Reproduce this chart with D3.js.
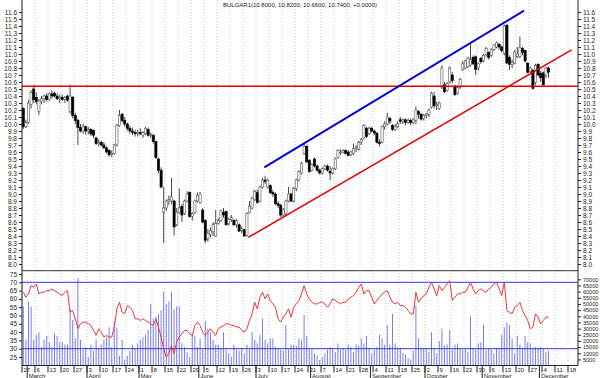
<!DOCTYPE html>
<html>
<head>
<meta charset="utf-8">
<script src="https://cdn.jsdelivr.net/npm/d3@7"></script>
<style>
body { margin: 0; background: #fff; }
svg text { font-family: "Liberation Sans", Arial, sans-serif; fill: #222; }
</style>
</head>
<body>
<div id="chart"></div>
<script>
// daily OHLC, 27 Feb 2006 onwards (one value per trading day)
var opens = [
  10.22, 9.96, 10.02, 10.28, 10.5, 10.38, 10.18, 10.32, 10.36, 10.4,
  10.35, 10.43, 10.44, 10.4, 10.36, 10.38, 10.35, 10.4, 10.18, 10.38,
  10.12, 10.05, 9.95, 9.9, 9.96, 9.9, 9.92, 9.91, 9.8, 9.72,
  9.74, 9.7, 9.66, 9.62, 9.56, 9.58, 9.7, 9.98, 10.14, 10.05,
  10.0, 9.94, 9.9, 9.88, 9.86, 9.88, 9.84, 9.86, 9.92, 9.84,
  9.84, 9.75, 9.5, 9.34, 8.74, 8.8, 8.9, 8.9, 8.9, 8.56,
  8.74, 8.82, 8.72, 8.9, 9.02, 8.68, 8.74, 8.9, 8.88, 8.77,
  8.62, 8.36, 8.42, 8.46, 8.4, 8.58, 8.62, 8.74, 8.75, 8.58,
  8.64, 8.62, 8.56, 8.56, 8.48, 8.49, 8.41, 8.74, 8.8, 8.92,
  9.02, 8.9, 9.1, 9.2, 9.1, 9.12, 9.02, 9.0, 8.86, 8.84,
  8.7, 8.72, 8.9, 9.0, 8.9, 9.08, 9.2, 9.3, 9.58, 9.68,
  9.48, 9.34, 9.5, 9.4, 9.34, 9.3, 9.36, 9.4, 9.32, 9.3,
  9.36, 9.52, 9.6, 9.6, 9.62, 9.6, 9.56, 9.58, 9.65, 9.64,
  9.74, 9.8, 9.94, 9.86, 9.94, 9.9, 9.87, 9.74, 9.74, 9.96,
  10.0, 10.08, 9.98, 9.92, 9.96, 10.06, 10.04, 10.06, 10.02, 10.05,
  10.02, 10.05, 10.18, 10.14, 10.08, 10.12, 10.14, 10.24, 10.4, 10.26,
  10.22, 10.52, 10.56, 10.48, 10.6, 10.7, 10.54, 10.44, 10.52, 10.78,
  10.8, 10.82, 10.84, 10.95, 10.96, 10.8, 10.94, 10.9, 10.99, 11.02,
  10.98, 11.06, 11.1, 11.14, 11.1, 11.01, 11.41, 10.95, 10.85, 10.87,
  10.96, 10.96, 11.08, 11.05, 10.87, 10.75, 10.77, 10.59, 10.85, 10.72,
  10.73, 10.7, 10.8
];
var highs = [
  10.24, 10.06, 10.34, 10.48, 10.56, 10.45, 10.36, 10.4, 10.42, 10.44,
  10.45, 10.48, 10.46, 10.44, 10.42, 10.42, 10.4, 10.42, 10.56, 10.4,
  10.16, 10.08, 10.0, 10.0, 9.98, 9.96, 9.94, 9.92, 9.82, 9.78,
  9.76, 9.74, 9.68, 9.64, 9.62, 9.72, 10.0, 10.2, 10.16, 10.1,
  10.02, 9.98, 9.95, 9.92, 9.92, 9.94, 9.9, 9.96, 9.95, 9.88,
  9.86, 9.76, 9.52, 9.38, 9.1, 8.92, 8.98, 9.23, 8.92, 8.8,
  9.08, 8.86, 8.92, 9.04, 9.04, 8.74, 8.92, 9.02, 9.03, 8.8,
  8.64, 8.5, 8.52, 8.6, 8.77, 8.66, 8.78, 8.8, 8.76, 8.66,
  8.7, 8.64, 8.64, 8.58, 8.54, 8.5, 8.74, 8.9, 8.96, 9.06,
  9.06, 9.12, 9.23, 9.26, 9.22, 9.14, 9.06, 9.02, 8.9, 8.86,
  8.8, 8.92, 9.1, 9.02, 9.1, 9.22, 9.34, 9.46, 9.72, 9.7,
  9.5, 9.44, 9.52, 9.42, 9.36, 9.38, 9.42, 9.42, 9.4, 9.38,
  9.52, 9.64, 9.64, 9.64, 9.64, 9.62, 9.62, 9.72, 9.7, 9.76,
  9.8, 10.0, 9.96, 9.96, 9.96, 9.92, 9.88, 9.78, 9.98, 10.04,
  10.16, 10.1, 10.0, 10.0, 10.04, 10.1, 10.08, 10.08, 10.08, 10.08,
  10.08, 10.25, 10.2, 10.16, 10.14, 10.16, 10.22, 10.46, 10.46, 10.32,
  10.32, 10.84, 10.6, 10.6, 10.82, 10.74, 10.56, 10.54, 10.66, 10.9,
  10.92, 10.96, 11.16, 10.98, 10.98, 10.88, 10.96, 11.0, 11.1, 11.04,
  11.08, 11.14, 11.18, 11.16, 11.12, 11.42, 11.43, 10.98, 10.92, 11.06,
  11.1, 11.25, 11.1, 11.06, 10.88, 10.82, 10.78, 10.86, 10.87, 10.76,
  10.75, 10.82, 10.82
];
var lows = [
  9.93, 9.94, 10.0, 10.22, 10.3, 10.28, 10.13, 10.28, 10.3, 10.32,
  10.33, 10.36, 10.38, 10.34, 10.3, 10.33, 10.3, 10.32, 10.15, 10.08,
  10.0, 9.7, 9.88, 9.86, 9.85, 9.85, 9.83, 9.8, 9.7, 9.68,
  9.68, 9.64, 9.58, 9.53, 9.53, 9.56, 9.68, 9.96, 10.02, 9.96,
  9.9, 9.86, 9.84, 9.82, 9.82, 9.84, 9.8, 9.84, 9.82, 9.8,
  9.72, 9.5, 9.3, 9.08, 8.3, 8.76, 8.84, 8.86, 8.41, 8.54,
  8.72, 8.6, 8.7, 8.88, 8.66, 8.62, 8.72, 8.88, 8.86, 8.58,
  8.3, 8.32, 8.38, 8.4, 8.39, 8.56, 8.6, 8.66, 8.55, 8.55,
  8.6, 8.54, 8.52, 8.46, 8.44, 8.39, 8.39, 8.72, 8.78, 8.9,
  8.86, 8.88, 9.08, 9.14, 9.08, 9.0, 8.96, 8.84, 8.8, 8.67,
  8.68, 8.7, 8.88, 8.88, 8.88, 9.04, 9.18, 9.28, 9.56, 9.44,
  9.3, 9.32, 9.38, 9.32, 9.28, 9.28, 9.34, 9.32, 9.2, 9.28,
  9.34, 9.5, 9.56, 9.58, 9.56, 9.54, 9.54, 9.56, 9.6, 9.62,
  9.7, 9.78, 9.8, 9.84, 9.88, 9.84, 9.72, 9.68, 9.72, 9.92,
  9.98, 10.0, 9.9, 9.9, 9.94, 10.0, 10.0, 9.98, 10.0, 9.98,
  10.0, 10.0, 10.08, 10.05, 10.05, 10.08, 10.1, 10.22, 10.22, 10.2,
  10.2, 10.5, 10.44, 10.46, 10.58, 10.58, 10.4, 10.42, 10.5, 10.76,
  10.78, 10.8, 10.82, 10.84, 10.7, 10.76, 10.86, 10.88, 10.96, 10.92,
  10.96, 11.04, 11.08, 11.06, 11.02, 10.98, 10.86, 10.77, 10.8, 10.85,
  10.94, 10.94, 10.98, 10.88, 10.72, 10.72, 10.49, 10.56, 10.68, 10.6,
  10.55, 10.66, 10.66
];
var closes = [
  9.96, 10.02, 10.3, 10.45, 10.35, 10.32, 10.33, 10.36, 10.4, 10.35,
  10.43, 10.4, 10.4, 10.36, 10.38, 10.35, 10.38, 10.34, 10.4, 10.12,
  10.05, 9.95, 9.9, 9.96, 9.9, 9.92, 9.86, 9.84, 9.72, 9.74,
  9.7, 9.66, 9.6, 9.56, 9.58, 9.7, 9.98, 10.12, 10.05, 10.0,
  9.94, 9.9, 9.88, 9.86, 9.88, 9.86, 9.88, 9.94, 9.84, 9.85,
  9.75, 9.52, 9.34, 9.1, 8.8, 8.9, 8.92, 8.96, 8.53, 8.74,
  8.8, 8.7, 8.9, 9.0, 8.68, 8.72, 8.9, 8.98, 9.0, 8.6,
  8.34, 8.44, 8.48, 8.56, 8.58, 8.62, 8.76, 8.7, 8.56, 8.64,
  8.66, 8.56, 8.62, 8.47, 8.5, 8.4, 8.72, 8.82, 8.94, 9.04,
  8.88, 9.1, 9.2, 9.18, 9.2, 9.02, 9.0, 8.86, 8.84, 8.7,
  8.78, 8.9, 9.0, 8.9, 9.08, 9.2, 9.32, 9.44, 9.68, 9.46,
  9.32, 9.42, 9.4, 9.34, 9.3, 9.36, 9.4, 9.34, 9.3, 9.36,
  9.5, 9.62, 9.6, 9.62, 9.58, 9.55, 9.6, 9.65, 9.66, 9.74,
  9.78, 9.98, 9.82, 9.94, 9.9, 9.87, 9.74, 9.72, 9.96, 10.0,
  10.1, 10.04, 9.92, 9.96, 10.0, 10.04, 10.06, 10.02, 10.05, 10.02,
  10.06, 10.2, 10.14, 10.07, 10.12, 10.14, 10.2, 10.44, 10.26, 10.28,
  10.3, 10.8, 10.46, 10.58, 10.8, 10.62, 10.42, 10.52, 10.64, 10.86,
  10.9, 10.94, 10.92, 10.86, 10.78, 10.86, 10.89, 10.98, 11.08, 10.95,
  11.06, 11.13, 11.16, 11.1, 11.05, 11.4, 10.87, 10.85, 10.88, 11.03,
  11.0, 11.09, 11.02, 10.9, 10.74, 10.8, 10.51, 10.84, 10.7, 10.66,
  10.56, 10.8, 10.74
];
// volume, thousands of shares
var volumes = [
  48, 21, 52, 48, 21, 25, 27, 15, 21, 24,
  19, 15, 26, 24, 19, 19, 17, 17, 46, 37,
  22, 71, 21, 13, 15, 7, 17, 12, 21, 14,
  17, 21, 23, 31, 15, 36, 31, 8, 21, 5,
  8, 12, 17, 14, 18, 21, 23, 25, 29, 50,
  38, 40, 42, 45, 60, 50, 52, 60, 46, 48,
  48, 18, 15, 11, 7, 25, 24, 15, 22, 13,
  36, 30, 27, 21, 17, 17, 14, 27, 13, 10,
  7, 17, 13, 12, 14, 10, 17, 13, 27, 21,
  18, 25, 38, 21, 18, 22, 22, 15, 14, 13,
  12, 33, 13, 17, 17, 16, 22, 21, 41, 24,
  14, 13, 10, 8, 4.5, 7, 10, 13, 15, 14,
  11, 18, 13, 14, 13, 17, 15, 11, 17, 16,
  22, 18, 24, 14, 10, 13, 15, 25, 22, 17,
  33, 17, 42, 18, 15, 14, 10, 9, 6, 5,
  12, 49, 22, 14, 14, 14, 11, 27, 14, 10,
  20, 30, 16, 17, 29, 13, 17, 18, 14, 13,
  14, 11, 40, 14, 13, 18, 19, 33, 13, 14,
  13, 10, 14, 13, 25, 31, 35, 33, 22, 10,
  24, 17, 14, 24, 19, 18, 14, 15, 14, 15,
  14, 11, 12
];
var rsi = [
  64, 61, 63, 68, 67, 69, 63, 64, 64, 65,
  65, 66, 65, 64, 63, 62, 64, 65, 52, 53,
  48, 42, 45, 46, 46, 45, 44, 41, 38, 42,
  40, 37, 38, 37, 37, 43, 54, 58, 52, 51,
  56, 55, 53, 48, 48, 47, 48, 47, 46, 45,
  44, 48, 43, 37, 30, 25, 27, 32, 27, 34,
  37, 39, 41, 41, 39, 38, 44, 46, 44, 40,
  38, 40, 42, 40, 38, 42, 43, 44, 45, 45,
  44, 44, 43, 43, 41, 40, 42, 47, 51, 58,
  54, 61, 64, 60, 63, 59, 57, 55, 48, 46,
  49, 51, 54, 49, 55, 57, 59, 63, 68, 63,
  60, 58, 57, 57, 58, 58, 57, 55, 57, 60,
  59, 58, 57, 58, 58, 60, 61, 62, 64, 67,
  69, 63, 65, 65, 61, 57, 59, 61, 63, 64,
  65, 61, 58, 57, 58, 56, 56, 55, 53, 51,
  51, 64, 58, 60, 62, 63, 67, 70, 66, 62,
  68, 65, 67, 69, 71, 59, 61, 63, 63, 64,
  64, 67, 70, 66, 63, 65, 66, 65, 64, 66,
  67, 69, 70, 66, 62, 70, 53, 52, 51, 55,
  56, 58, 53, 50, 47, 42, 43, 51, 49, 45,
  47, 49, 49
];

var title = "BULGAR1(10.8000, 10.8200, 10.6600, 10.7400, +0.0000)";
var support = 10.54;
// trend lines as [trading day index, price]
var blueTrend = [[92.7, 9.38], [192.6, 11.62]];
var redTrend = [[86.5, 8.38], [210.9, 11.06]];
var rsiBands = [70, 30];
var priceTicks = d3.range(80, 117).map(function (v) { return v / 10; });
var rsiTicks = [25, 30, 35, 40, 45, 50, 55, 60, 65, 70, 75];
var volTicks = [5, 10, 15, 20, 25, 30, 35, 40, 45, 50, 55, 60, 65, 70];

var W = 600, H = 378,
    left = 22, right = 578,
    splitY = 270.7, bottomY = 365.5;

// trading days (weekdays) from 27 Feb 2006, axis runs to mid December
var days = d3.timeDay.range(new Date(2006, 1, 27), new Date(2006, 11, 22))
    .filter(function (d) { return d.getDay() > 0 && d.getDay() < 6; });

var x = d3.scaleLinear().domain([-0.5, days.length - 0.5]).range([left, 578.4]);
var y = d3.scaleLinear().domain([8, 11.6]).range([264, 12]);
var yRsi = d3.scaleLinear().domain([20, 75]).range([365.3, 274]);
var yVol = d3.scaleLinear().domain([0, 70]).range([365.6, 279.3]);

var svg = d3.select("#chart").append("svg")
    .attr("width", W).attr("height", H)
    .style("display", "block");

// week gridlines
var mondays = [];
days.forEach(function (d, i) { if (d.getDay() == 1) mondays.push(i); });

svg.selectAll("line.grid").data(mondays).enter().append("line")
    .attr("class", "grid")
    .attr("x1", function (i) { return x(i - 0.5); })
    .attr("x2", function (i) { return x(i - 0.5); })
    .attr("y1", 0).attr("y2", bottomY)
    .attr("stroke", "#bbb").attr("stroke-width", 0.8)
    .attr("stroke-dasharray", "1,2");

// title
svg.append("text")
    .attr("x", 300).attr("y", 7)
    .attr("text-anchor", "middle")
    .style("font-size", "6px")
    .text(title);

// volume bars
svg.selectAll("line.vol").data(volumes).enter().append("line")
    .attr("class", "vol")
    .attr("x1", function (d, i) { return x(i); })
    .attr("x2", function (d, i) { return x(i); })
    .attr("y1", yVol(0))
    .attr("y2", function (d) { return yVol(d); })
    .attr("stroke", "#6464ee").attr("stroke-width", 0.85);

// rsi bands
svg.selectAll("line.band").data(rsiBands).enter().append("line")
    .attr("x1", left).attr("x2", right)
    .attr("y1", function (d) { return yRsi(d); })
    .attr("y2", function (d) { return yRsi(d); })
    .attr("stroke", "#3535e0").attr("stroke-width", 1);

// rsi line
svg.append("path")
    .datum(rsi)
    .attr("d", d3.line()
        .x(function (d, i) { return x(i); })
        .y(function (d) { return yRsi(d); }))
    .attr("fill", "none")
    .attr("stroke", "#e83838").attr("stroke-width", 1);

// candles
var candles = svg.selectAll("g.candle").data(closes).enter().append("g");

candles.append("line")
    .attr("x1", function (d, i) { return x(i); })
    .attr("x2", function (d, i) { return x(i); })
    .attr("y1", function (d, i) { return y(highs[i]); })
    .attr("y2", function (d, i) { return y(lows[i]); })
    .attr("stroke", "#333").attr("stroke-width", 0.9);

candles.append("rect")
    .attr("x", function (d, i) { return x(i) - 1.1; })
    .attr("width", 2.2)
    .attr("y", function (d, i) { return y(Math.max(opens[i], d)); })
    .attr("height", function (d, i) { return Math.max(0.8, Math.abs(y(opens[i]) - y(d))); })
    .attr("fill", function (d, i) { return d >= opens[i] ? "#fff" : "#000"; })
    .attr("stroke", function (d, i) { return d >= opens[i] ? "#555" : "#000"; })
    .attr("stroke-width", 0.6);

// support + trend lines
svg.append("line")
    .attr("x1", left).attr("x2", right)
    .attr("y1", y(support)).attr("y2", y(support))
    .attr("stroke", "#e00000").attr("stroke-width", 1.5);

svg.append("line")
    .attr("x1", x(redTrend[0][0])).attr("y1", y(redTrend[0][1]))
    .attr("x2", x(redTrend[1][0])).attr("y2", y(redTrend[1][1]))
    .attr("stroke", "#e00000").attr("stroke-width", 1.5);

svg.append("line")
    .attr("x1", x(blueTrend[0][0])).attr("y1", y(blueTrend[0][1]))
    .attr("x2", x(blueTrend[1][0])).attr("y2", y(blueTrend[1][1]))
    .attr("stroke", "#0000cc").attr("stroke-width", 2);

// frame lines
svg.append("line").attr("x1", left).attr("x2", left).attr("y1", 0).attr("y2", bottomY)
    .attr("stroke", "#222");
svg.append("line").attr("x1", right).attr("x2", right).attr("y1", 0).attr("y2", bottomY)
    .attr("stroke", "#222");
svg.append("line").attr("x1", left).attr("x2", right).attr("y1", splitY).attr("y2", splitY)
    .attr("stroke", "#333");
svg.append("line").attr("x1", left).attr("x2", right).attr("y1", bottomY).attr("y2", bottomY)
    .attr("stroke", "#222");

function styleAxis(g, size) {
    g.select(".domain").remove();
    g.selectAll("line").attr("stroke", "#222");
    g.selectAll("text").style("font-size", size + "px")
        .style("font-family", "'Liberation Sans', Arial, sans-serif")
        .attr("fill", "#222");
}

// price axes
var fmt1 = d3.format(".1f");
svg.append("g").attr("transform", "translate(" + left + ",0)")
    .call(d3.axisLeft(y).tickValues(priceTicks).tickFormat(fmt1).tickSize(3).tickPadding(2))
    .call(styleAxis, 6.5);
svg.append("g").attr("transform", "translate(" + right + ",0)")
    .call(d3.axisRight(y).tickValues(priceTicks).tickFormat(fmt1).tickSize(3).tickPadding(2))
    .call(styleAxis, 6.5);

// rsi axis (left) and volume axis (right)
svg.append("g").attr("transform", "translate(" + left + ",0)")
    .call(d3.axisLeft(yRsi).tickValues(rsiTicks).tickSize(3).tickPadding(2))
    .call(styleAxis, 6.5);
svg.append("g").attr("transform", "translate(" + right + ",0)")
    .call(d3.axisRight(yVol).tickValues(volTicks)
        .tickFormat(function (d) { return d * 1000; }).tickSize(3).tickPadding(2))
    .call(styleAxis, 5.5);

// date axis: week labels
var dayFmt = d3.timeFormat("%-d"), monFmt = d3.timeFormat("%B");
var wk = svg.append("g").selectAll("g").data(mondays).enter().append("g")
    .attr("transform", function (i) { return "translate(" + x(i - 0.5) + "," + bottomY + ")"; });
wk.append("line").attr("y1", 0).attr("y2", 7).attr("stroke", "#222");
wk.append("text").attr("x", 1.5).attr("y", 6)
    .style("font-size", "6px")
    .text(function (i) { return dayFmt(days[i]); });

// month labels at first trading day of each month
var monthStarts = [];
days.forEach(function (d, i) {
    if (i > 0 && d.getMonth() != days[i - 1].getMonth()) monthStarts.push(i);
});
var mg = svg.append("g").selectAll("g").data(monthStarts).enter().append("g")
    .attr("transform", function (i) { return "translate(" + x(i - 0.5) + "," + bottomY + ")"; });
mg.append("line").attr("y1", 0).attr("y2", 13).attr("stroke", "#222");
mg.append("text").attr("x", 1.5).attr("y", 12.5)
    .style("font-size", "6px")
    .text(function (i) { return monFmt(days[i]); });
</script>
</body>
</html>
